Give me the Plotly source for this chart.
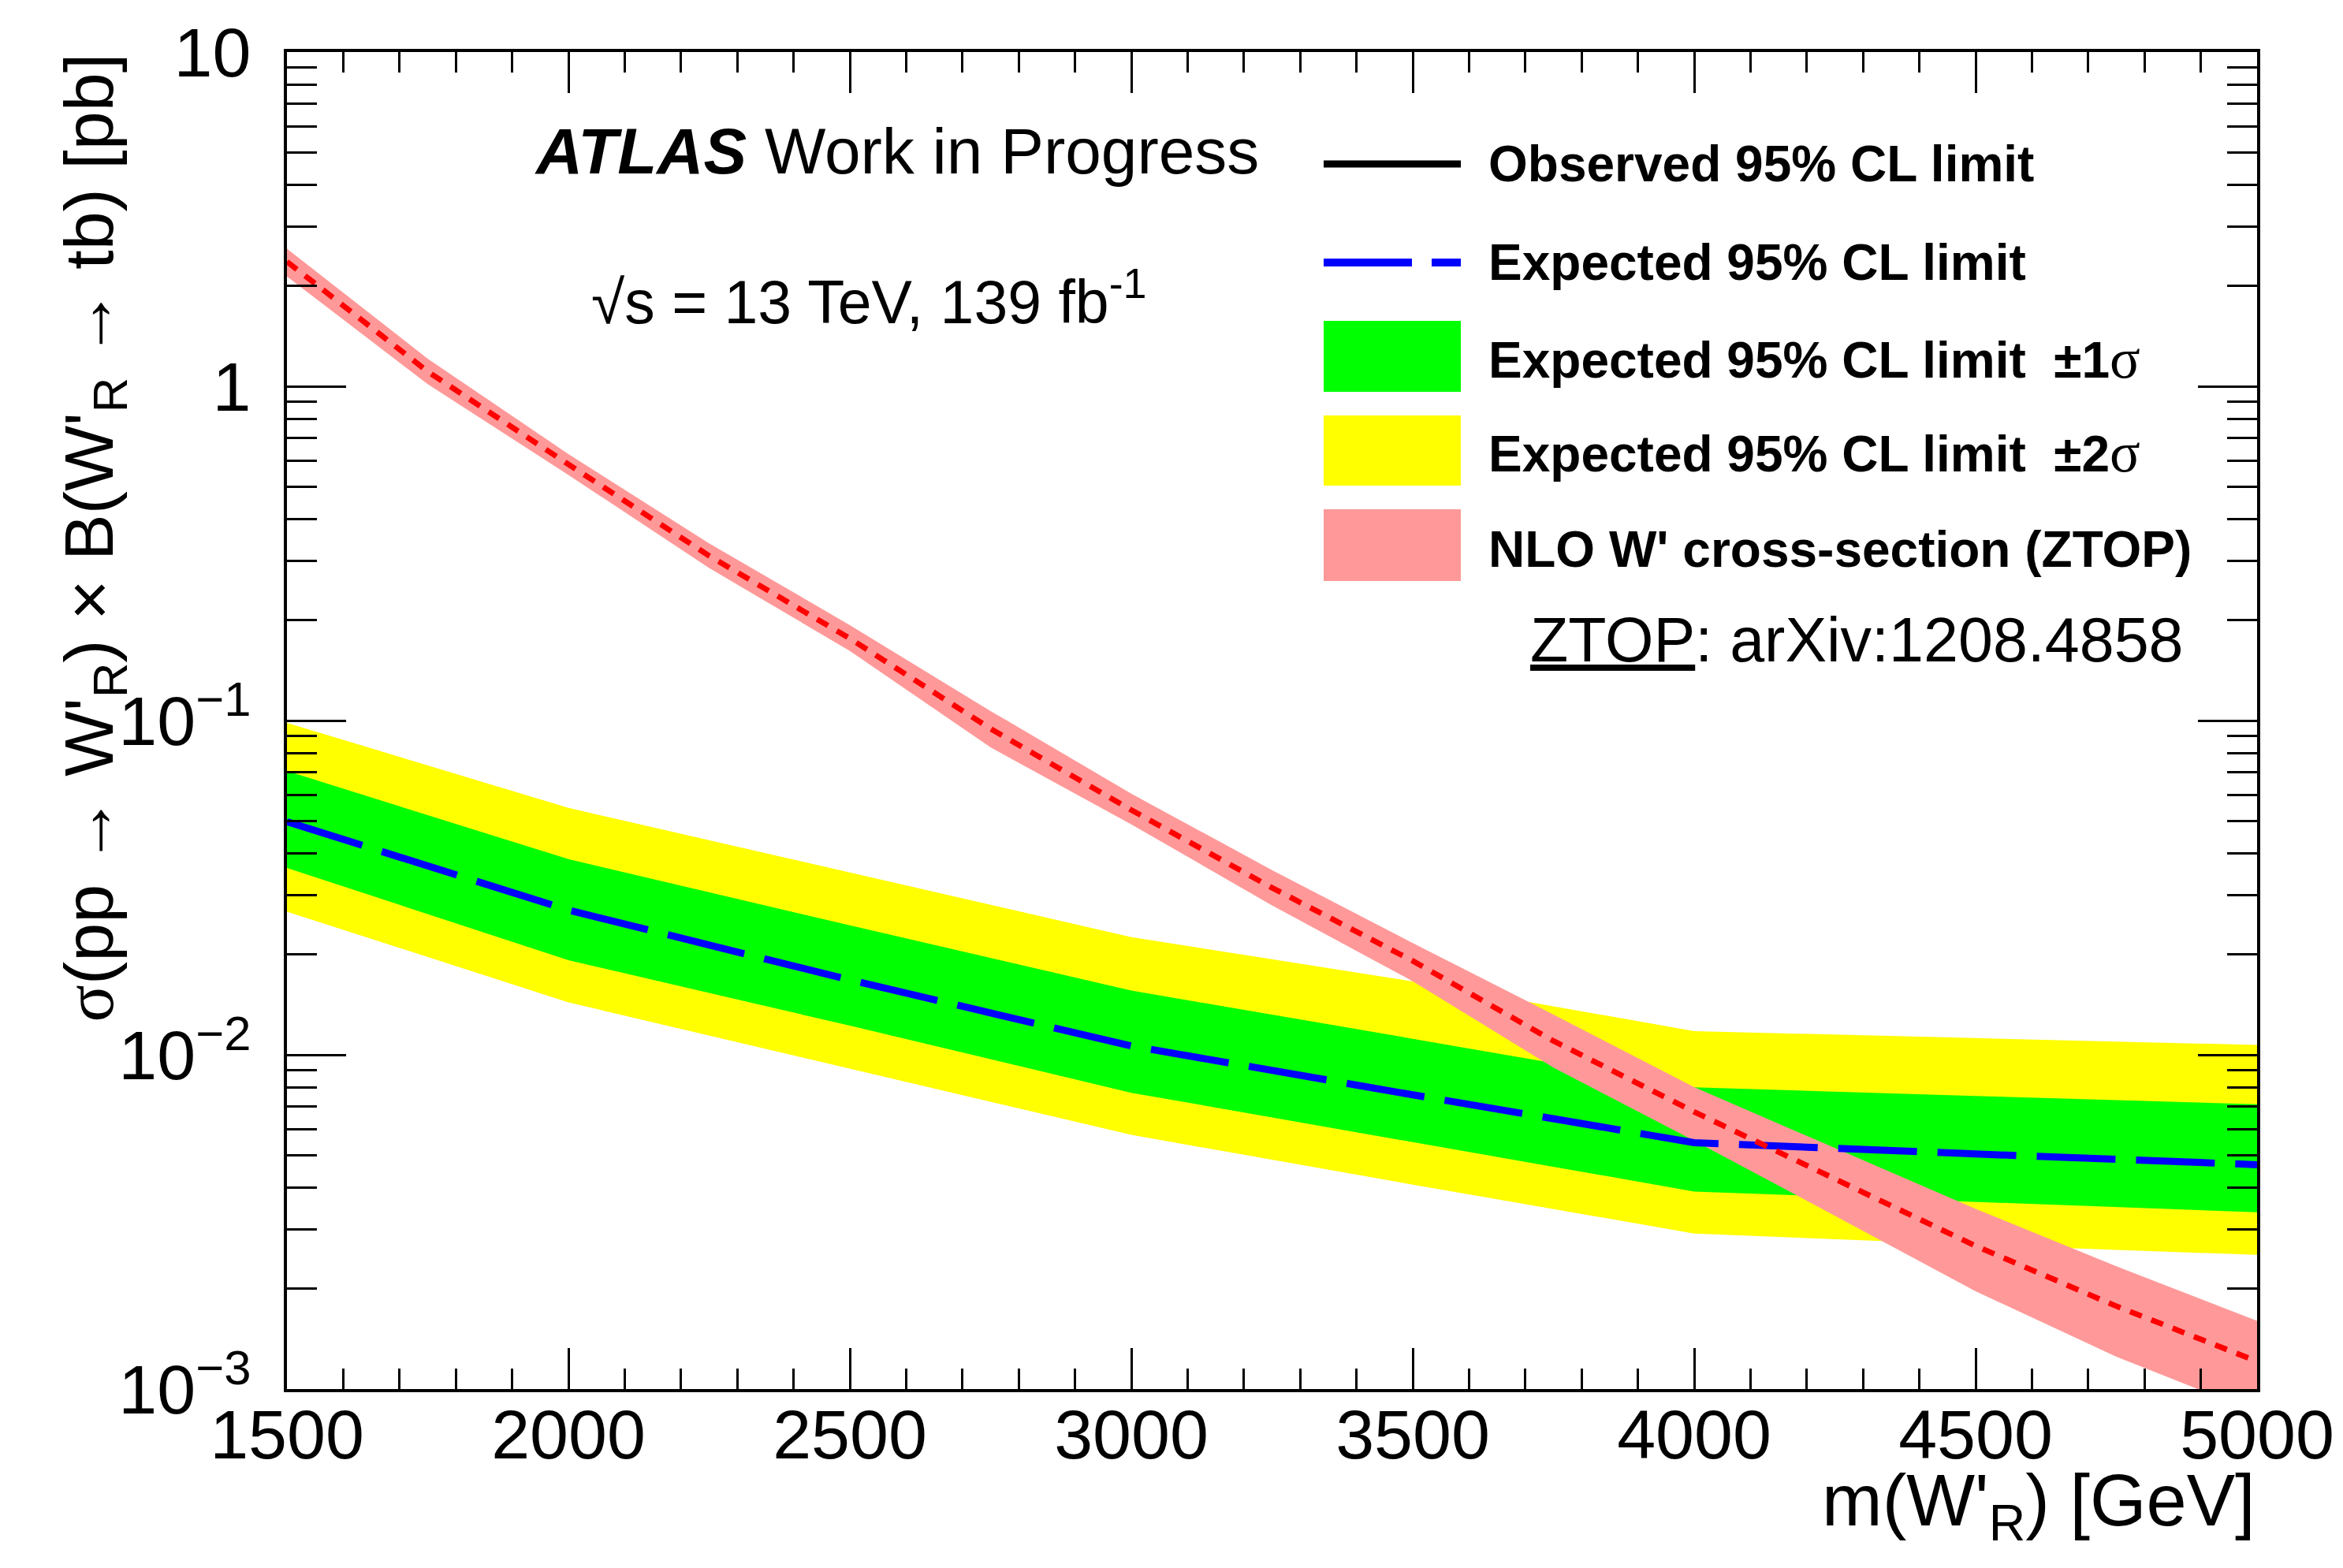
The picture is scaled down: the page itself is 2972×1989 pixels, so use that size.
import plotly.graph_objects as go

# ---------------- data ----------------
mass_exp = [1500, 2000, 2500, 3000, 3500, 4000, 4500, 5000]
exp_limit = [0.0498, 0.0271, 0.01675, 0.01063, 0.00759, 0.00546, 0.00505, 0.00469]
exp_p1 = [0.0706, 0.0385, 0.0244, 0.01556, 0.01117, 0.00799, 0.00753, 0.00711]
exp_m1 = [0.0362, 0.0192, 0.01222, 0.0077, 0.00548, 0.0039, 0.00363, 0.00338]
exp_p2 = [0.0984, 0.0548, 0.0351, 0.0225, 0.01657, 0.01177, 0.01122, 0.0107]
exp_m2 = [0.0268, 0.01435, 0.0091, 0.00576, 0.00409, 0.00292, 0.0027, 0.00252]

obs_mass = []
obs_limit = []

mass_th = [1500, 1750, 2000, 2250, 2500, 2750, 3000, 3250, 3500, 3750, 4000, 4250, 4500, 4750, 5000]
xsec = [2.36, 1.107, 0.584, 0.311, 0.176, 0.0945, 0.054, 0.0316, 0.0191, 0.0110, 0.00675, 0.00426, 0.00268, 0.00177, 0.00121]
xsec_up = [2.58, 1.21, 0.627, 0.339, 0.193, 0.1068, 0.0604, 0.0357, 0.0216, 0.0132, 0.0080, 0.00525, 0.00346, 0.00233, 0.0016]
xsec_dn = [2.13, 1.015, 0.543, 0.286, 0.1615, 0.0831, 0.0489, 0.0280, 0.0166, 0.00915, 0.00553, 0.0033, 0.00196, 0.00125, 0.00085]

y_tickvals = [0.001, 0.01, 0.1, 1, 10]
y_ticktext = ["10<sup>\u22123</sup>", "10<sup>\u22122</sup>", "10<sup>\u22121</sup>", "1", "10"]
x_tickvals = [1500, 2000, 2500, 3000, 3500, 4000, 4500, 5000]
x_ticktext = ["1500", "2000", "2500", "3000", "3500", "4000", "4500", "5000"]

legend_labels = [
    "<b>Observed 95% CL limit</b>",
    "<b>Expected 95% CL limit</b>",
    "<b>Expected 95% CL limit  \u00b11</b><span style=\"font-family:'Liberation Serif';font-size:72px\">\u03c3</span>",
    "<b>Expected 95% CL limit  \u00b12</b><span style=\"font-family:'Liberation Serif';font-size:72px\">\u03c3</span>",
    "<b>NLO W' cross-section (ZTOP)</b>",
]

# ---------------- layout geometry ----------------
W, H = 2972, 1989
L, R, T, B = 364, 109, 66, 227
PW, PH = W - L - R, H - T - B
FONT = "Liberation Sans, Arial, Helvetica, sans-serif"


def px(xpix):
    return (xpix - L) / PW


def py(ypix):
    return (H - B - ypix) / PH


YELLOW = "#ffff00"
GREEN = "#00ff00"
PINK = "#ff9999"
BLUE = "#0000ff"
RED = "#ff0000"

fig = go.Figure()

# +-2 sigma band
fig.add_trace(go.Scatter(
    x=mass_exp + mass_exp[::-1], y=exp_p2 + exp_m2[::-1],
    fill="toself", fillcolor=YELLOW, line=dict(width=0), mode="lines",
    showlegend=False, hoverinfo="skip"))
# +-1 sigma band
fig.add_trace(go.Scatter(
    x=mass_exp + mass_exp[::-1], y=exp_p1 + exp_m1[::-1],
    fill="toself", fillcolor=GREEN, line=dict(width=0), mode="lines",
    showlegend=False, hoverinfo="skip"))
# theory band
fig.add_trace(go.Scatter(
    x=mass_th + mass_th[::-1], y=xsec_up + xsec_dn[::-1],
    fill="toself", fillcolor=PINK, line=dict(width=0), mode="lines",
    showlegend=False, hoverinfo="skip"))
# expected
fig.add_trace(go.Scatter(
    x=mass_exp, y=exp_limit, mode="lines",
    line=dict(color=BLUE, width=9, dash="100px,26px"), showlegend=False))
# observed (not drawn in reference)
fig.add_trace(go.Scatter(
    x=obs_mass, y=obs_limit, mode="lines",
    line=dict(color="black", width=8), showlegend=False))
# theory central
fig.add_trace(go.Scatter(
    x=mass_th, y=xsec, mode="lines",
    line=dict(color=RED, width=7, dash="16px,13px"), showlegend=False))

# ---------------- manual legend ----------------
sym_x0, sym_x1 = px(1679), px(1853)
shapes = []
shapes.append(dict(type="line", xref="paper", yref="paper", x0=sym_x0, x1=sym_x1,
                   y0=py(208), y1=py(208), line=dict(color="black", width=9)))
shapes.append(dict(type="line", xref="paper", yref="paper", x0=sym_x0, x1=sym_x1,
                   y0=py(333), y1=py(333), line=dict(color=BLUE, width=10, dash="112px,25px")))
for col, (ya, yb) in zip([GREEN, YELLOW, PINK], [(407, 497), (527, 616), (646, 737)]):
    shapes.append(dict(type="rect", xref="paper", yref="paper", x0=sym_x0, x1=sym_x1,
                       y0=py(yb), y1=py(ya), fillcolor=col, line=dict(width=0)))

annotations = []
for lab, yrow in zip(legend_labels, [208, 333, 455, 574, 697]):
    annotations.append(dict(text=lab, xref="paper", yref="paper", x=px(1886), y=py(yrow),
                            xanchor="left", yanchor="middle", showarrow=False,
                            font=dict(family=FONT, size=64, color="black")))

annotations.append(dict(text="<b><i>ATLAS</i></b> Work in Progress", xref="paper", yref="paper",
                        x=px(676), y=py(191), xanchor="left", yanchor="middle", showarrow=False,
                        font=dict(family=FONT, size=82, color="black")))
annotations.append(dict(text="\u221as = 13 TeV, 139 fb<sup>-1</sup>", xref="paper", yref="paper",
                        x=px(748), y=py(377), xanchor="left", yanchor="middle", showarrow=False,
                        font=dict(family=FONT, size=77, color="black")))
annotations.append(dict(text="<u>ZTOP</u>: arXiv:1208.4858", xref="paper", yref="paper",
                        x=px(2772), y=py(811), xanchor="right", yanchor="middle", showarrow=False,
                        font=dict(family=FONT, size=79, color="black")))
# axis titles
annotations.append(dict(
    text="<span style=\"font-family:'Liberation Serif'\">\u03c3</span>(pp \u2192 W'<sub>R</sub>) \u00d7 B(W'<sub>R</sub> \u2192 tb) [pb]",
    xref="paper", yref="paper", x=px(118), y=1.0, xanchor="center", yanchor="top",
    textangle=-90, showarrow=False, font=dict(family=FONT, size=88, color="black")))
annotations.append(dict(
    text="m(W'<sub>R</sub>) [GeV]", xref="paper", yref="paper", x=1.0, y=py(1910),
    xanchor="right", yanchor="middle", showarrow=False,
    font=dict(family=FONT, size=92, color="black")))

fig.update_layout(
    width=W, height=H,
    margin=dict(l=L, r=R, t=T, b=B, pad=0),
    paper_bgcolor="white", plot_bgcolor="white",
    showlegend=False,
    shapes=shapes, annotations=annotations,
    font=dict(family=FONT, size=88, color="black"),
)

fig.update_xaxes(
    range=[1500, 5000], showgrid=False, zeroline=False,
    showline=True, linecolor="black", linewidth=4, mirror="ticks",
    ticks="inside", ticklen=52, tickwidth=3, tickcolor="black",
    tickmode="array", tickvals=x_tickvals, ticktext=x_ticktext,
    tickfont=dict(family=FONT, size=88),
    ticklabelstandoff=-22,
    minor=dict(ticks="inside", ticklen=26, tickwidth=3, tickcolor="black",
               dtick=100, showgrid=False),
)
fig.update_yaxes(
    type="log", range=[-3, 1], showgrid=False, zeroline=False,
    showline=True, linecolor="black", linewidth=4, mirror="ticks",
    ticks="inside", ticklen=75, tickwidth=3, tickcolor="black",
    tickmode="array", tickvals=y_tickvals, ticktext=y_ticktext,
    tickfont=dict(family=FONT, size=88),
    ticklabelstandoff=24,
    minor=dict(ticks="inside", ticklen=38, tickwidth=3, tickcolor="black", showgrid=False,
               tickmode="array",
               tickvals=[k * 10.0 ** e for e in range(-3, 1) for k in range(2, 10)]),
)

fig.write_html("out.html", config={"displayModeBar": False},
               post_script="document.body.style.margin='0';")
